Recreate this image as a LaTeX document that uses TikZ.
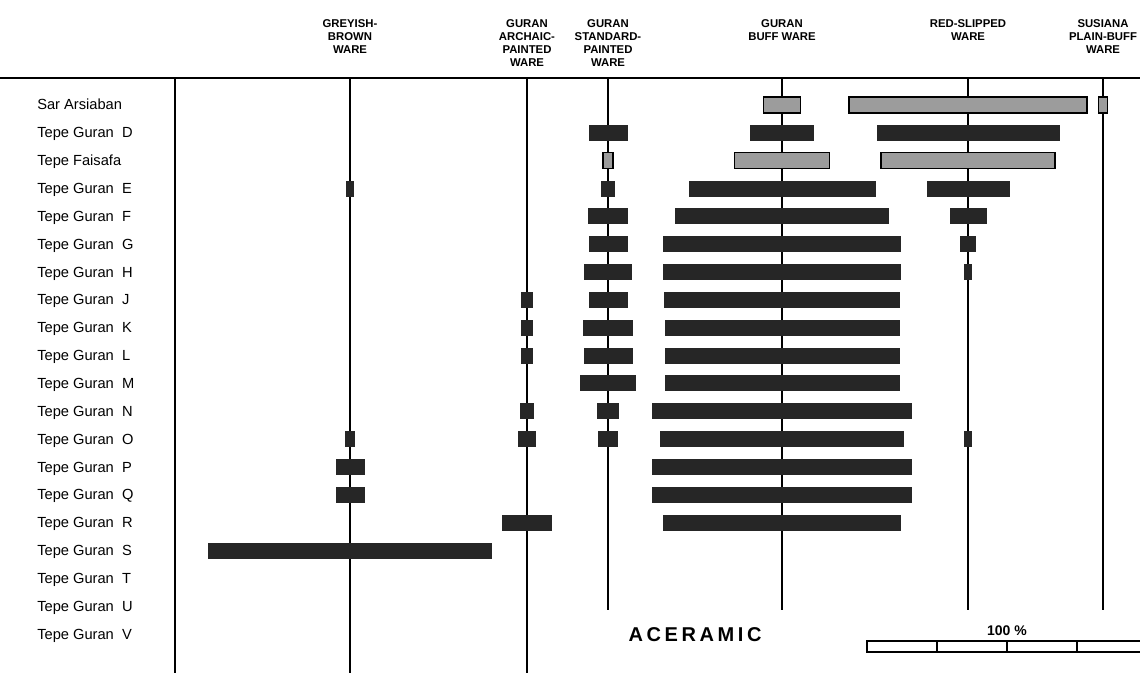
\documentclass[tikz,border=0pt]{standalone}
\usepackage{fontspec}
\setmainfont{Liberation Sans}
\newfontfamily\spacedfont[LetterSpace=18]{Liberation Sans}
\usepackage{tikz}
\usetikzlibrary{positioning}
\definecolor{barblack}{HTML}{262626}
\definecolor{bargrey}{HTML}{9C9C9C}
\tikzstyle{ware} = [align=center, inner sep=0pt, anchor=north, font=\bfseries\fontsize{8.5}{9.8}\selectfont]
\tikzstyle{site} = [anchor=base west, inner sep=0pt, font=\fontsize{11}{13}\selectfont]
\tikzstyle{axis} = [line width=1.4pt]
\tikzstyle{blkbar} = [fill=barblack]
\tikzstyle{grybar} = [fill=bargrey, draw=black, line width=1pt]
\newcommand{\rowy}[1]{105+27.85*#1}

\begin{document}
\begin{tikzpicture}[x=0.75pt, y=-0.75pt]
    \useasboundingbox (0,0) rectangle (1140,673);

    % Ware headings
    \node (greyhd) [ware] at (350,19) {GREYISH-\\BROWN\\WARE};
    \node (archhd) [ware] at (527,19) {GURAN\\ARCHAIC-\\PAINTED\\WARE};
    \node (stdhd) [ware] at (608,19) {GURAN\\STANDARD-\\PAINTED\\WARE};
    \node (buffhd) [ware] at (782,19) {GURAN\\BUFF WARE};
    \node (redhd) [ware] at (968,19) {RED-SLIPPED\\WARE};
    \node (susahd) [ware] at (1103,19) {SUSIANA\\PLAIN-BUFF\\WARE};

    % Axes
    \coordinate (left) at (175,78);
    \coordinate (grey) at (350,78);
    \coordinate (arch) at (527,78);
    \coordinate (std) at (608,78);
    \coordinate (buff) at (782,78);
    \coordinate (red) at (968,78);
    \coordinate (susa) at (1103,78);
    \draw[axis] (0,78) -- (1140,78);
    \draw[axis] (left) -- (175,673);
    \draw[axis] (grey) -- (350,673);
    \draw[axis] (arch) -- (527,673);
    \draw[axis] (std) -- (608,610);
    \draw[axis] (buff) -- (782,610);
    \draw[axis] (red) -- (968,610);
    \draw[axis] (susa) -- (1103,610);

    % Sites
    \foreach \s [count=\i from 0] in {Sar Arsiaban, Tepe Guran~~D, Tepe Faisafa,
        Tepe Guran~~E, Tepe Guran~~F, Tepe Guran~~G, Tepe Guran~~H, Tepe Guran~~J,
        Tepe Guran~~K, Tepe Guran~~L, Tepe Guran~~M, Tepe Guran~~N, Tepe Guran~~O,
        Tepe Guran~~P, Tepe Guran~~Q, Tepe Guran~~R, Tepe Guran~~S, Tepe Guran~~T,
        Tepe Guran~~U, Tepe Guran~~V}
        \node (row\i) [site] at (37,{\rowy{\i}+5}) {\s};

    % Greyish-brown ware
    \foreach \r/\w in {3/4, 12/5, 13/14.5, 14/14.5, 16/142}
        \path[blkbar] ({350-\w},{\rowy{\r}-8}) rectangle ({350+\w},{\rowy{\r}+8});
    % Archaic-painted ware
    \foreach \r/\w in {7/6, 8/6, 9/6, 11/7, 12/9, 15/25}
        \path[blkbar] ({527-\w},{\rowy{\r}-8}) rectangle ({527+\w},{\rowy{\r}+8});
    % Standard-painted ware
    \foreach \r/\w in {1/19.5, 3/7, 4/20, 5/19.5, 6/24, 7/19.5, 8/25, 9/24.5, 10/28, 11/11, 12/10}
        \path[blkbar] ({608-\w},{\rowy{\r}-8}) rectangle ({608+\w},{\rowy{\r}+8});
    \path[grybar] (603,{\rowy{2}-8}) rectangle (613,{\rowy{2}+8});
    % Buff ware
    \foreach \r/\w in {1/32, 3/93.5, 4/107, 5/119, 6/119, 7/118, 8/117.5, 9/117.5, 10/117.5,
        11/130, 12/122, 13/130, 14/130, 15/119}
        \path[blkbar] ({782-\w},{\rowy{\r}-8}) rectangle ({782+\w},{\rowy{\r}+8});
    \foreach \r/\w in {0/18.5, 2/47.5}
        \path[grybar] ({782-\w},{\rowy{\r}-8}) rectangle ({782+\w},{\rowy{\r}+8});
    % Red-slipped ware
    \foreach \r/\w in {1/91.5, 3/41.5, 4/18.5, 5/8, 6/4, 12/4}
        \path[blkbar] ({968-\w},{\rowy{\r}-8}) rectangle ({968+\w},{\rowy{\r}+8});
    \foreach \r/\w in {0/119, 2/87}
        \path[grybar] ({968-\w},{\rowy{\r}-8}) rectangle ({968+\w},{\rowy{\r}+8});
    % Susiana plain-buff ware
    \path[grybar] (1098.5,{\rowy{0}-8}) rectangle (1107.5,{\rowy{0}+8});

    % Aceramic and scale
    \node (acer) at (695,635) [font=\spacedfont\bfseries\fontsize{15}{17}\selectfont] {ACERAMIC};
    \node (pct) at (1007,631) [font=\bfseries\fontsize{10.5}{12}\selectfont] {100 \%};
    \draw[line width=0.9pt] (1140,641) -- (867,641) -- (867,652) -- (1140,652);
    \draw[line width=0.9pt] (937,641) -- (937,652);
    \draw[line width=0.9pt] (1007,641) -- (1007,652);
    \draw[line width=0.9pt] (1077,641) -- (1077,652);
\end{tikzpicture}
\end{document}
